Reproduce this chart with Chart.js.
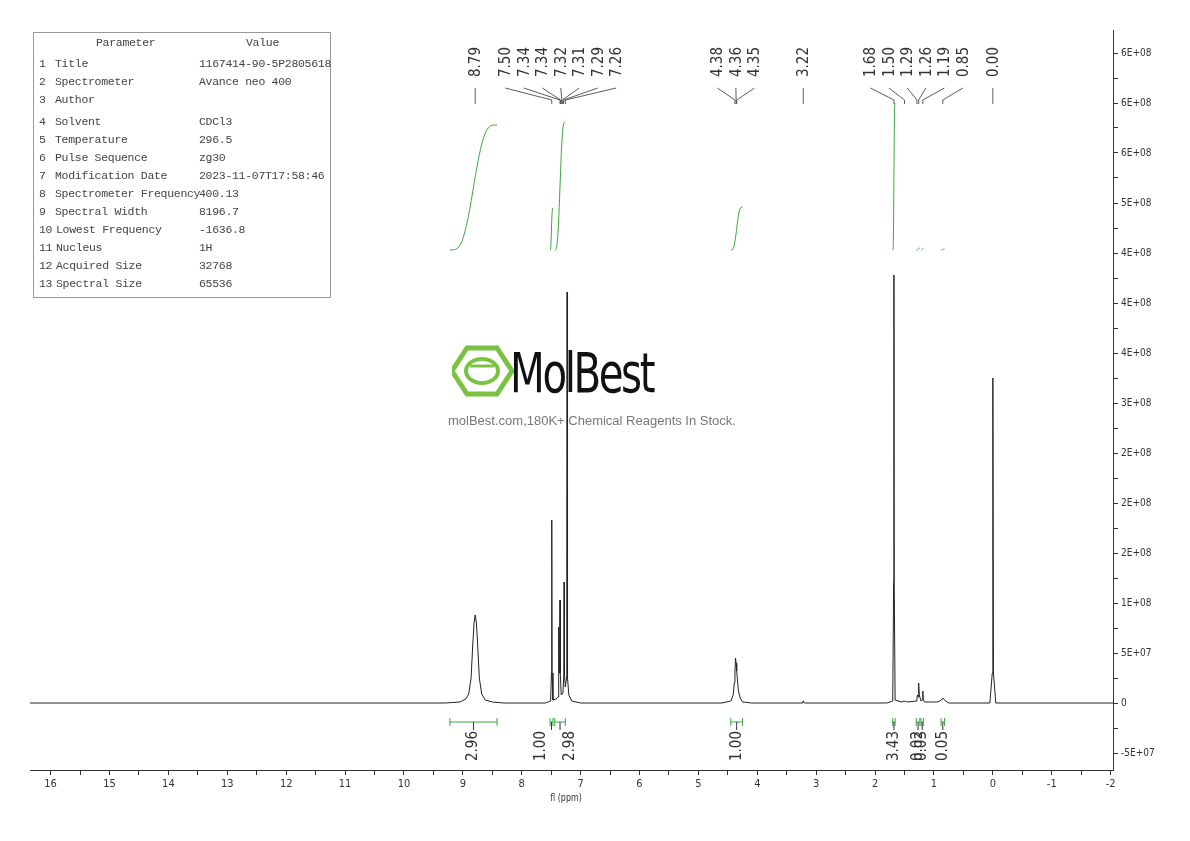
<!DOCTYPE html>
<html><head><meta charset="utf-8">
<script src="https://cdn.jsdelivr.net/npm/chart.js@4.4.0/dist/chart.umd.min.js"></script>
<style>
body{margin:0;background:#fff;width:1190px;height:841px;overflow:hidden;position:relative;font-family:"DejaVu Sans Condensed","DejaVu Sans",sans-serif}
#wrap{position:absolute;left:0;top:0;width:1190px;height:841px}
#tbl{position:absolute;left:33px;top:32px;width:296px;height:264px;border:1px solid #999;background:#fff;z-index:2}
#tbl div{position:absolute;white-space:pre;font-family:"Liberation Mono",monospace;font-size:11.5px;color:#444;letter-spacing:-0.3px}
#wm{position:absolute;left:448px;top:340px;width:300px;height:100px;z-index:3;pointer-events:none}
</style></head><body>
<div id="wrap"><canvas id="c" width="1190" height="841"></canvas></div>
<div id="tbl"></div>
<div id="wm">
<svg width="70" height="60" style="position:absolute;left:4px;top:2px"><polygon points="15,6 45,6 60,29 45,52 15,52 0,29" fill="none" stroke="#7cc242" stroke-width="5"/><ellipse cx="30" cy="29" rx="16" ry="12" fill="none" stroke="#7cc242" stroke-width="4"/><line x1="18" y1="24" x2="42" y2="24" stroke="#7cc242" stroke-width="3"/></svg>
<div style="position:absolute;left:62px;top:0px;font-family:'DejaVu Sans Condensed';font-size:56px;letter-spacing:-3px;color:#111;transform:scaleX(0.8);transform-origin:left">MolBest</div>
<div style="position:absolute;left:0;top:73px;font-family:'Liberation Sans',Arial;font-size:13px;color:#777;white-space:nowrap">molBest.com,180K+ Chemical Reagents In Stock.</div>
</div>
<script>
// ---- data ----
const tableParams = ["Title","Spectrometer","Author","Solvent","Temperature","Pulse Sequence","Modification Date","Spectrometer Frequency","Spectral Width","Lowest Frequency","Nucleus","Acquired Size","Spectral Size"];
const tableValues = ["1167414-90-5P2805618","Avance neo 400","","CDCl3","296.5","zg30","2023-11-07T17:58:46","400.13","8196.7","-1636.8","1H","32768","65536"];
const specPpm = [16.35,9.3,9.05,8.95,8.9,8.86,8.83,8.81,8.79,8.77,8.75,8.72,8.68,8.62,8.5,8.3,7.6,7.51,7.495,7.49,7.485,7.47,7.42,7.38,7.375,7.37,7.365,7.355,7.35,7.345,7.33,7.3,7.285,7.28,7.275,7.26,7.24,7.235,7.23,7.225,7.22,7.2,7.15,7.0,4.6,4.45,4.41,4.39,4.38,4.37,4.36,4.35,4.34,4.32,4.29,4.25,4.1,3.24,3.225,3.22,3.215,3.2,1.8,1.7,1.685,1.68,1.675,1.66,1.55,1.5,1.45,1.3,1.29,1.28,1.27,1.26,1.25,1.22,1.2,1.19,1.18,1.16,0.95,0.9,0.86,0.85,0.84,0.8,0.75,0.05,0.01,0.0,-0.01,-0.05,-2.04];
const specVal = [0,0,1,4,9,25,60,80,88,80,60,25,9,3,1,0,0,2,30,183,30,3,4,6,25,76,30,40,103,30,8,10,30,121,30,16,25,120,411,120,25,8,2,0,0,2,8,20,30,45,40,32,25,12,5,1,0,0,2,2,2,0,0,2,120,428,120,3,1,2,1,2,5,8,6,20,8,2,3,12,3,1,1,2,4,5,4,2,0,0,30,325,30,0,0];
const peakLabels = ["8.79","7.50","7.34","7.34","7.32","7.31","7.29","7.26","4.38","4.36","4.35","3.22","1.68","1.50","1.29","1.26","1.19","0.85","0.00"];
const peakPpm = [8.79,7.49,7.35,7.34,7.32,7.31,7.29,7.26,4.38,4.36,4.35,3.22,1.68,1.50,1.29,1.26,1.19,0.85,0.00];
const integralFrom = [9.22,7.52,7.44,4.45,1.70,1.30,1.22,0.88];
const integralTo = [8.42,7.47,7.26,4.25,1.66,1.24,1.18,0.82];
const integralVals = ["2.96","1.00","2.98","1.00","3.43","0.02","0.03","0.05"];
const integralRise = [125,42,128,43,147,2,2,1];
const yTickValues = [-50,0,50,100,150,200,250,300,350,400,450,500,550,600,650];
const yTickLabels = ["-5E+07","0","5E+07","1E+08","2E+08","2E+08","2E+08","3E+08","4E+08","4E+08","4E+08","5E+08","6E+08","6E+08","6E+08"];
const xTickLabels = ["16","15","14","13","12","11","10","9","8","7","6","5","4","3","2","1","0","-1","-2"];

const tbl=document.getElementById('tbl');
function cell(t,x,y){const d=document.createElement('div');d.textContent=t;d.style.left=x+'px';d.style.top=y+'px';tbl.appendChild(d);}
cell("Parameter",62,3);cell("Value",212,3);
tableParams.forEach((p,i)=>{const y=24+i*18+(i>=3?4:0);cell(String(i+1),5,y);cell(p,(i<9?21:22),y);cell(tableValues[i],165,y);});

const specData=specPpm.map((x,i)=>({x,y:specVal[i]}));
const intDatasets=integralFrom.map((f,i)=>{
  const base=453; const t=integralTo[i]; const r=integralRise[i];
  const pts=[]; const n=16;
  for(let k=0;k<=n;k++){const s=k/n; let sm=s*s*(3-2*s); sm=sm*sm*(3-2*sm); pts.push({x:f+(t-f)*s,y:base+r*sm});}
  return {data:pts,borderColor:'#3aa63a',borderWidth:1,pointRadius:0,tension:0.3,showLine:true};
});

const overlay={id:'ov',afterDatasetsDraw(ch){
  const c=ch.ctx,xs=ch.scales.x;
  c.save();
  const px=peakPpm.map(p=>xs.getPixelForValue(p));
  const pos=px.slice(); const gap=18.5;
  for(let it=0;it<80;it++){for(let i=1;i<pos.length;i++){if(pos[i]-pos[i-1]<gap){const d=(gap-(pos[i]-pos[i-1]))/2;pos[i]+=d;pos[i-1]-=d;}}}
  c.font='15px "DejaVu Sans Condensed"';c.fillStyle='#333';c.strokeStyle='#333';c.lineWidth=0.8;
  peakLabels.forEach((l,i)=>{
    c.save();c.translate(pos[i]+1,62);c.rotate(-Math.PI/2);c.textAlign='center';c.textBaseline='middle';c.fillText(l,0,0);c.restore();
    c.beginPath();c.moveTo(pos[i],88);c.lineTo(px[i],100);c.lineTo(px[i],104);c.stroke();
  });
  c.strokeStyle='#3aa63a';c.lineWidth=1;
  integralFrom.forEach((f,i)=>{
    const a=xs.getPixelForValue(f),b=xs.getPixelForValue(integralTo[i]),y=722;
    c.beginPath();c.moveTo(a,y);c.lineTo(b,y);c.moveTo(a,y-4);c.lineTo(a,y+4);c.moveTo(b,y-4);c.lineTo(b,y+4);c.stroke();
    const m=(a+b)/2;
    c.strokeStyle='#333';c.beginPath();c.moveTo(m,y);c.lineTo(m,y+8);c.stroke();c.strokeStyle='#3aa63a';
    c.save();c.translate(m+(i==1?-10:i==2?10:0),746);c.rotate(-Math.PI/2);c.textAlign='center';c.textBaseline='middle';c.fillStyle='#333';c.fillText(integralVals[i],0,0);c.restore();
  });
  c.font='11px "DejaVu Sans Condensed"';c.textAlign='center';c.fillStyle='#333';
  c.save();c.translate(566,801);c.scale(0.8,1);c.fillText('fl (ppm)',0,0);c.restore();
  c.restore();
}};

new Chart(document.getElementById('c'),{
  type:'scatter',
  data:{datasets:[{data:specData,showLine:true,borderColor:'#222',borderWidth:1,pointRadius:0,tension:0},...intDatasets]},
  options:{responsive:false,animation:false,
    layout:{padding:{left:30,top:30,right:12,bottom:0}},
    plugins:{legend:{display:false},tooltip:{enabled:false}},
    scales:{
      x:{type:'linear',reverse:true,min:-2.04,max:16.35,
        afterBuildTicks(a){const t=[];for(let v=-4;v<=32;v++)t.push({value:v/2});a.ticks=t;},
        afterFit(a){a.height=71;},
        grid:{drawOnChartArea:false,tickLength:5,color:'#333'},border:{color:'#333'},
        ticks:{autoSkip:false,maxRotation:0,color:'#333',font:{family:'DejaVu Sans Condensed',size:11},
          callback(v){return Number.isInteger(v)?xTickLabels[16-v]:'';}}},
      y:{position:'right',min:-67,max:673,
        afterBuildTicks(a){const t=[];for(let v=-50;v<=650;v+=25)t.push({value:v});a.ticks=t;},
        afterFit(a){a.width=65;},
        grid:{drawOnChartArea:false,tickLength:5,color:'#333'},border:{color:'#333'},
        ticks:{autoSkip:false,color:'#333',font:{family:'DejaVu Sans Condensed',size:10},
          callback(v){const i=yTickValues.indexOf(v);return i<0?'':yTickLabels[i];}}}
    }},
  plugins:[overlay]
});
</script></body></html>
